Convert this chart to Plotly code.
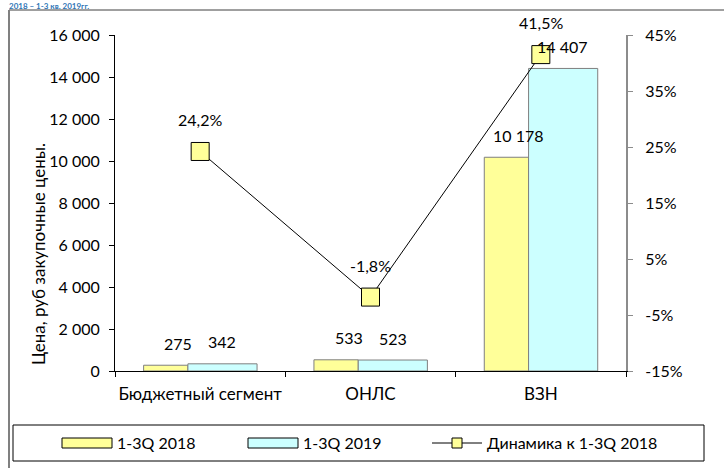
import plotly.graph_objects as go

categories = ["Бюджетный сегмент", "ОНЛС", "ВЗН"]
price_2018 = [275, 533, 10178]
price_2019 = [342, 523, 14407]
dynamics = [24.2, -1.8, 41.5]
dyn_labels = ["24,2%", "-1,8%", "41,5%"]
series_names = ["1-3Q 2018", "1-3Q 2019", "Динамика к 1-3Q 2018"]
y_ticks = [0, 2000, 4000, 6000, 8000, 10000, 12000, 14000, 16000]
y2_ticks = [-15, -5, 5, 15, 25, 35, 45]
y2_ticktext = ["-15%", "-5%", "5%", "15%", "25%", "35%", "45%"]
title_text = "2018 – 1-3 кв. 2019гг."

W, H = 724, 468
L, R, T, B = 115, 626, 35, 371
FONT = "Lato"
YEL = "#FFFF99"
CYAN = "#CCFFFF"


def px(x):
    return (x - L) / (R - L)


def py(y):
    return (B - y) / (B - T)


fig = go.Figure()
fig.add_trace(go.Bar(x=categories, y=price_2018, name=series_names[0],
                     marker=dict(color=YEL, line=dict(color="#7f7f7f", width=1)),
                     offset=-0.332, width=0.26, showlegend=False))
fig.add_trace(go.Bar(x=categories, y=price_2019, name=series_names[1],
                     marker=dict(color=CYAN, line=dict(color="#7f7f7f", width=1)),
                     offset=-0.072, width=0.406, showlegend=False))
fig.add_trace(go.Scatter(x=categories, y=dynamics, name=series_names[2], yaxis="y2",
                         mode="lines+markers",
                         line=dict(color="black", width=1),
                         marker=dict(symbol="square", size=18, color=YEL,
                                     line=dict(color="black", width=1)),
                         showlegend=False))

ann = []
for c, v in zip(categories, price_2018):
    ann.append(dict(x=c, y=v, xref="x", yref="y", text=f"{v:,}".replace(",", " "),
                    showarrow=False, xshift=-22, yshift=22, yanchor="middle",
                    font=dict(family=FONT, size=16, color="black")))
for c, v in zip(categories, price_2019):
    ann.append(dict(x=c, y=v, xref="x", yref="y", text=f"{v:,}".replace(",", " "),
                    showarrow=False, xshift=22, yshift=22, yanchor="middle",
                    font=dict(family=FONT, size=16, color="black")))
for c, v, t in zip(categories, dynamics, dyn_labels):
    ann.append(dict(x=c, y=v, xref="x", yref="y2", text=t,
                    showarrow=False, yshift=32, yanchor="middle",
                    font=dict(family=FONT, size=16, color="black")))

# y-axis title
ann.append(dict(x=px(38), y=py(254), xref="paper", yref="paper",
                text="Цена, руб закупочные цены.", textangle=-90, showarrow=False,
                xanchor="center", yanchor="middle",
                font=dict(family=FONT, size=17, color="black")))
# title strip at the very top
ann.append(dict(x=px(8), y=py(0), xref="paper", yref="paper",
                text="<b>" + title_text + "</b>", showarrow=False,
                xanchor="left", yanchor="top", borderpad=0,
                font=dict(family=FONT, size=8, color="#2E75B6")))

shapes = []
# outer frame (top + left)
shapes.append(dict(type="line", xref="paper", yref="paper",
                   x0=px(9), x1=px(724), y0=py(10), y1=py(10),
                   line=dict(color="#404040", width=1)))
shapes.append(dict(type="line", xref="paper", yref="paper",
                   x0=px(9), x1=px(9), y0=py(10), y1=py(468),
                   line=dict(color="#808080", width=2)))

# manual legend
lx0, lx1, ly0, ly1 = 13, 704, 425, 461
cy = (ly0 + ly1) / 2
shapes.append(dict(type="rect", xref="paper", yref="paper",
                   x0=px(lx0), x1=px(lx1), y0=py(ly0), y1=py(ly1),
                   line=dict(color="black", width=1), fillcolor="white"))
legend_items = [
    (62, "bar", YEL, series_names[0]),
    (248, "bar", CYAN, series_names[1]),
    (432, "line", YEL, series_names[2]),
]
for x0, kind, col, name in legend_items:
    if kind == "bar":
        shapes.append(dict(type="rect", xref="paper", yref="paper",
                           x0=px(x0), x1=px(x0 + 50), y0=py(cy - 5), y1=py(cy + 5),
                           line=dict(color="black", width=1), fillcolor=col))
    else:
        shapes.append(dict(type="line", xref="paper", yref="paper",
                           x0=px(x0), x1=px(x0 + 50), y0=py(cy), y1=py(cy),
                           line=dict(color="black", width=1)))
        shapes.append(dict(type="rect", xref="paper", yref="paper",
                           x0=px(x0 + 20), x1=px(x0 + 30), y0=py(cy - 5), y1=py(cy + 5),
                           line=dict(color="black", width=1), fillcolor=col))
    ann.append(dict(x=px(x0 + 53), y=py(cy), xref="paper", yref="paper",
                    text=name, showarrow=False, xanchor="left", yanchor="middle",
                    font=dict(family=FONT, size=16, color="black")))

fig.update_layout(
    width=W, height=H,
    margin=dict(l=L, r=W - R, t=T, b=H - B, pad=0, autoexpand=False),
    paper_bgcolor="white", plot_bgcolor="white",
    barmode="overlay",
    separators=", ",
    font=dict(family=FONT, size=16, color="black"),
    xaxis=dict(type="category", showline=True, linecolor="black", linewidth=1,
               ticks="outside", tickson="boundaries", ticklen=5, tickcolor="black",
               showgrid=False, zeroline=False, ticklabelstandoff=8,
               tickangle=0, automargin=False,
               tickfont=dict(family=FONT, size=17)),
    yaxis=dict(range=[0, 16000], tickvals=y_ticks, tickformat=",d",
               showline=True, linecolor="black", linewidth=1,
               ticks="outside", ticklen=5, tickcolor="black",
               showgrid=False, zeroline=False, ticklabelstandoff=6,
               automargin=False,
               tickfont=dict(family=FONT, size=16)),
    yaxis2=dict(range=[-15, 45], tickvals=y2_ticks, ticktext=y2_ticktext,
                overlaying="y", side="right", anchor="x",
                showline=True, linecolor="#8c8c8c", linewidth=2,
                ticks="outside", ticklen=5, tickcolor="#8c8c8c",
                showgrid=False, zeroline=False, ticklabelstandoff=9,
                automargin=False,
                tickfont=dict(family=FONT, size=16)),
    annotations=ann,
    shapes=shapes,
    showlegend=False,
)

fig.write_html("out.html", config={"displayModeBar": False},
               post_script="document.body.style.margin='0';")
